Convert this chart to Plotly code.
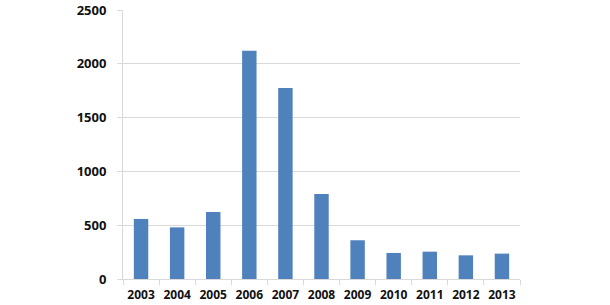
import plotly.graph_objects as go

years = ["2003", "2004", "2005", "2006", "2007", "2008", "2009", "2010", "2011", "2012", "2013"]
values = [558, 480, 623, 2122, 1776, 790, 360, 242, 254, 220, 236]
y_ticks = [0, 500, 1000, 1500, 2000, 2500]

fig = go.Figure(go.Bar(x=years, y=values, marker=dict(color="#4f81bd", line=dict(width=0))))

fig.update_layout(
    width=610, height=305,
    margin=dict(l=123, r=90, t=10, b=26),
    paper_bgcolor="white", plot_bgcolor="white",
    bargap=0.6,
    showlegend=False,
    font=dict(family="Open Sans", size=12, color="#111111"),
)
fig.update_xaxes(
    type="category", tickangle=0, automargin=False,
    showline=True, linecolor="#d9d9d9", linewidth=1,
    ticks="outside", tickson="boundaries", ticklen=5, tickcolor="#d9d9d9",
    tickfont=dict(family="Open Sans", size=12, weight="bold", color="#111111"),
    ticklabelstandoff=5,
    showgrid=False,
)
fig.update_yaxes(
    range=[0, 2500], tickvals=y_ticks, automargin=False,
    showline=True, linecolor="#d9d9d9", linewidth=1,
    ticks="outside", ticklen=5, tickcolor="#d9d9d9",
    gridcolor="#d9d9d9", gridwidth=1,
    zeroline=False,
    tickfont=dict(family="Open Sans", size=13, weight="bold", color="#111111"),
    ticklabelstandoff=8,
)

fig.write_html("out.html")
